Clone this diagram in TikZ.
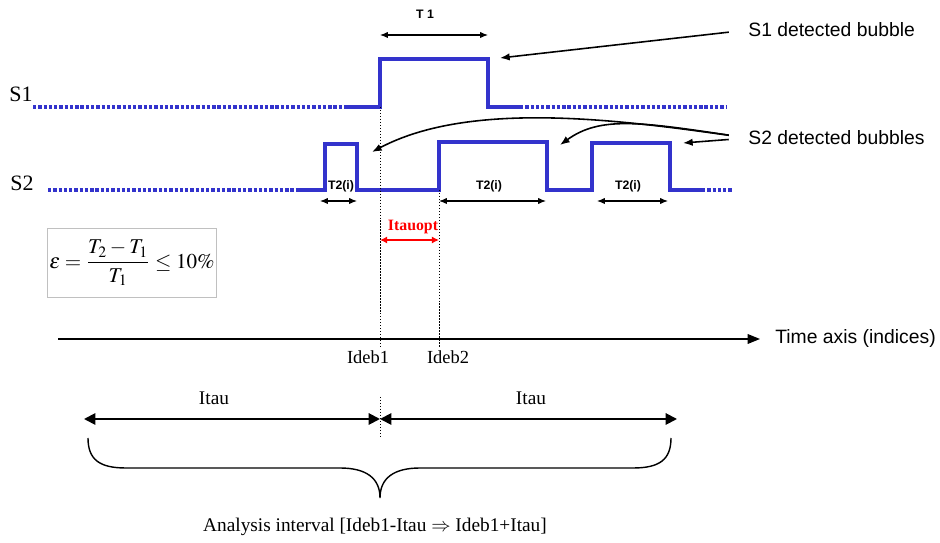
\documentclass[tikz,border=0pt]{standalone}
\usepackage{amsmath}
\usepackage{mathptmx}
\usepackage[no-math]{fontspec}
\setmainfont{Liberation Serif}
\setsansfont{Liberation Sans}
\usetikzlibrary{positioning, arrows.meta, calc}
\definecolor{sigblue}{RGB}{51,51,204}
\definecolor{boxgray}{RGB}{192,192,192}
\tikzset{
every node/.style = {inner sep = 0pt},
signal/.style = {draw = sigblue, line width = 1.9pt},
signaldots/.style = {signal, dash pattern = on 1.9pt off 1.1pt},
guide/.style = {draw, line width = 0.4pt, dash pattern = on 0.8pt off 0.9pt},
span/.style = {{Latex[length = 4.5pt, width = 3.6pt]}-{Latex[length = 4.5pt, width = 3.6pt]},
   line width = 0.6pt},
optspan/.style = {{Latex[length = 4pt, width = 4pt]}-{Latex[length = 4pt, width = 4pt]},
   line width = 1.1pt, red},
pointer/.style = {-{Latex[length = 5.5pt, width = 4.2pt]}, line width = 0.9pt,
   shorten < = 11pt},
timeaxis/.style = {-{Triangle[length = 7pt, width = 5.5pt]}, line width = 0.7pt},
halfspan/.style = {{Triangle[length = 6.5pt, width = 6.5pt]}-{Triangle[length = 6.5pt, width = 6.5pt]},
   line width = 1.1pt},
brace/.style = {draw, line width = 0.8pt},
siglabel/.style = {font = \fontsize{12.5}{14}\selectfont},
note/.style = {font = \sffamily\fontsize{11}{13}\selectfont, anchor = west},
widthlabel/.style = {font = \sffamily\bfseries\fontsize{7}{8}\selectfont},
idxlabel/.style = {font = \fontsize{10.5}{12}\selectfont},
formbox/.style = {draw = boxgray, line width = 0.6pt, minimum width = 96pt,
   minimum height = 39pt, font = \fontsize{12}{14}\selectfont}
}

\begin{document}
\begin{tikzpicture}[x = 0.02cm, y = -0.02cm]
\useasboundingbox (0,0) rectangle (940,543);

%% Signal S1
\node [siglabel] (s1) at (21,94) {S1};
\draw [signaldots] (33,107) -- (347,107);
\draw [signal] (347,107) -- (380,107) -- (380,59) -- (488,59) -- (488,107) -- (520,107);
\draw [signaldots] (520,107) -- (727,107);

%% Signal S2
\node [siglabel] (s2) at (22,183) {S2};
\draw [signaldots] (48,190) -- (297,190);
\draw [signal] (297,190) -| (325,144) -| (357,190) -| (439,142) -| (547,190)
   -| (592,143) -| (670,190) -- (702,190);
\draw [signaldots] (702,190) -- (733,190);

%% Indices
\coordinate (ideb1) at (380,107);
\coordinate (ideb2) at (439,190);
\coordinate (axis0) at (58,339);
\coordinate (axis1) at (760,339);
\draw [guide] (ideb1) -- (ideb1 |- 0,347);
\draw [guide] (ideb2) -- (ideb2 |- 0,347);
\draw [timeaxis] (axis0) -- (axis1);
\node [note] (axistxt) at (775,339) {Time axis (indices)};
\node [idxlabel] (i1) at (368,357) {Ideb1};
\node [idxlabel] (i2) at (448,357) {Ideb2};

%% Widths
\coordinate (t1a) at (380,35);
\coordinate (t1b) at (488,35);
\path [span] (t1a) edge (t1b);
\node [widthlabel] (t1) at (425,14) {T 1};

\coordinate (wa1) at (320,201);
\coordinate (wb1) at (357,201);
\coordinate (wa2) at (439,201);
\coordinate (wb2) at (546,201);
\coordinate (wa3) at (597,201);
\coordinate (wb3) at (668,201);
\path [span] (wa1) edge (wb1);
\path [span] (wa2) edge (wb2);
\path [span] (wa3) edge (wb3);
\node [widthlabel] (w1) at (341,186) {T2(i)};
\node [widthlabel] (w2) at (489,186) {T2(i)};
\node [widthlabel] (w3) at (628,186) {T2(i)};

%% Optimal shift
\coordinate (oa) at (380,240);
\coordinate (ob) at (439,240);
\path [optspan] (oa) edge (ob);
\node [font = \bfseries\fontsize{9}{10}\selectfont, text = red] (opt) at (413,227) {Itauopt};

%% Criterion
\node [formbox] (eps) at (132,263) {$\varepsilon = \dfrac{T_{2} - T_{1}}{T_{1}} \leq 10\%$};

%% Pointers
\node [note] (s1txt) at (748,30) {S1 detected bubble};
\node [note] (s2txt) at (748,138) {S2 detected bubbles};
\coordinate (b1) at (500,58);
\coordinate (b21) at (372,152);
\coordinate (b22) at (560,145);
\coordinate (b23) at (683,143);
\path [pointer] (s1txt.west) edge (b1);
\draw [pointer] (s2txt.west) .. controls (620,120) and (470,100) .. (b21);
\draw [pointer] (s2txt.west) .. controls (640,122) and (600,116) .. (b22);
\path [pointer] (s2txt.west) edge (b23);

%% Analysis interval
\coordinate (lft) at (84,419);
\coordinate (mid) at (380,419);
\coordinate (rgt) at (677,419);
\draw [guide] (380,397) -- (380,437);
\path [halfspan] (lft) edge (mid);
\path [halfspan] (mid) edge (rgt);
\node [font = \fontsize{11}{13}\selectfont] (tau1) at (214,398) {Itau};
\node [font = \fontsize{11}{13}\selectfont] (tau2) at (531,398) {Itau};
\draw [brace] (88,438) .. controls (88,460) and (100,468) .. (126,468) -- (340,468)
   .. controls (366,468) and (380,478) .. (380,498)
   .. controls (380,478) and (394,468) .. (420,468) -- (633,468)
   .. controls (659,468) and (671,460) .. (671,438);
\node [font = \fontsize{11}{13}\selectfont] (range) at (375,527)
   {Analysis interval [Ideb1-Itau $\Rightarrow$ Ideb1+Itau]};

\end{tikzpicture}
\end{document}
